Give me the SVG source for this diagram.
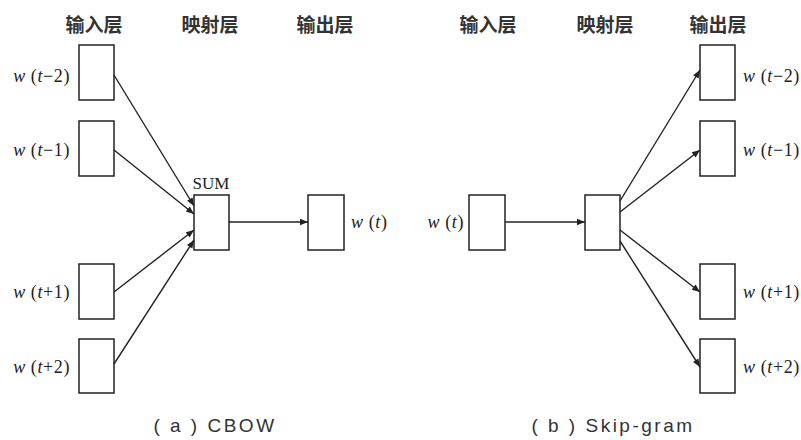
<svg xmlns="http://www.w3.org/2000/svg" width="801" height="440" viewBox="0 0 801 440">
<style>
.box{fill:#fff;stroke:#222;stroke-width:1.5}
.hdr{font-family:"Noto Sans CJK SC",sans-serif;font-size:19px;font-weight:bold;fill:#333;text-anchor:middle}
.lbl{font-family:"Liberation Serif",serif;font-size:18px;fill:#222;letter-spacing:0.6px}
.lbl tspan.i{font-style:italic}
.sum{font-family:"Liberation Serif",serif;font-size:17px;fill:#222;text-anchor:middle}
.cap{font-family:"Liberation Sans","Noto Sans CJK SC",sans-serif;font-size:19px;fill:#333;text-anchor:middle;letter-spacing:2.5px}
.con line{stroke:#222;stroke-width:1.4;marker-end:url(#ah)}
</style>
<defs>
<marker id="ah" viewBox="0 0 10 10" refX="10" refY="5" markerWidth="11" markerHeight="8" markerUnits="userSpaceOnUse" orient="auto">
<path d="M0,1 L10,5 L0,9 Z" fill="#222"/>
</marker>
</defs>
<rect width="801" height="440" fill="#fff"/>
<g id="headers">
<text class="hdr" x="94" y="32">输入层</text>
<text class="hdr" x="210" y="32">映射层</text>
<text class="hdr" x="325" y="32">输出层</text>
<text class="hdr" x="488" y="32">输入层</text>
<text class="hdr" x="605" y="32">映射层</text>
<text class="hdr" x="718" y="32">输出层</text>
</g>
<!-- CBOW -->
<g id="cbow-in1"><rect class="box" x="79" y="45" width="35" height="55"/><text class="lbl" x="70" y="82" text-anchor="end"><tspan class="i">w</tspan> (<tspan class="i">t</tspan>−2)</text></g>
<g id="cbow-in2"><rect class="box" x="79" y="121" width="35" height="55"/><text class="lbl" x="70" y="156" text-anchor="end"><tspan class="i">w</tspan> (<tspan class="i">t</tspan>−1)</text></g>
<g id="cbow-in3"><rect class="box" x="79" y="264" width="35" height="55"/><text class="lbl" x="70" y="298" text-anchor="end"><tspan class="i">w</tspan> (<tspan class="i">t</tspan>+1)</text></g>
<g id="cbow-in4"><rect class="box" x="79" y="339" width="35" height="54"/><text class="lbl" x="70" y="373" text-anchor="end"><tspan class="i">w</tspan> (<tspan class="i">t</tspan>+2)</text></g>
<g id="cbow-proj"><rect class="box" x="194" y="195" width="35" height="55"/><text class="sum" x="211" y="189">SUM</text></g>
<g id="cbow-out"><rect class="box" x="308" y="195" width="36" height="55"/><text class="lbl" x="351" y="228"><tspan class="i">w</tspan> (<tspan class="i">t</tspan>)</text></g>
<!-- Skip-gram -->
<g id="sg-in"><rect class="box" x="469" y="195" width="36" height="55"/><text class="lbl" x="464" y="228" text-anchor="end"><tspan class="i">w</tspan> (<tspan class="i">t</tspan>)</text></g>
<g id="sg-proj"><rect class="box" x="585" y="195" width="35" height="55"/></g>
<g id="sg-out1"><rect class="box" x="700" y="45" width="35" height="55"/><text class="lbl" x="743" y="82"><tspan class="i">w</tspan> (<tspan class="i">t</tspan>−2)</text></g>
<g id="sg-out2"><rect class="box" x="700" y="121" width="35" height="55"/><text class="lbl" x="743" y="156"><tspan class="i">w</tspan> (<tspan class="i">t</tspan>−1)</text></g>
<g id="sg-out3"><rect class="box" x="700" y="264" width="35" height="55"/><text class="lbl" x="743" y="298"><tspan class="i">w</tspan> (<tspan class="i">t</tspan>+1)</text></g>
<g id="sg-out4"><rect class="box" x="700" y="339" width="35" height="54"/><text class="lbl" x="743" y="373"><tspan class="i">w</tspan> (<tspan class="i">t</tspan>+2)</text></g>
<!-- connectors -->
<g id="connectors" class="con">
<line x1="114" y1="75" x2="194" y2="206"/>
<line x1="114" y1="150" x2="194" y2="214"/>
<line x1="114" y1="292" x2="194" y2="230"/>
<line x1="114" y1="364" x2="194" y2="240"/>
<line x1="229" y1="222" x2="308" y2="222"/>
<line x1="505" y1="222" x2="585" y2="222"/>
<line x1="620" y1="201" x2="700" y2="70"/>
<line x1="620" y1="212" x2="700" y2="150"/>
<line x1="620" y1="230" x2="700" y2="292"/>
<line x1="620" y1="241" x2="700" y2="367"/>
</g>
<g id="captions">
<text class="cap" x="215" y="432">( a ) CBOW</text>
<text class="cap" x="613" y="432">( b ) Skip-gram</text>
</g>
</svg>
